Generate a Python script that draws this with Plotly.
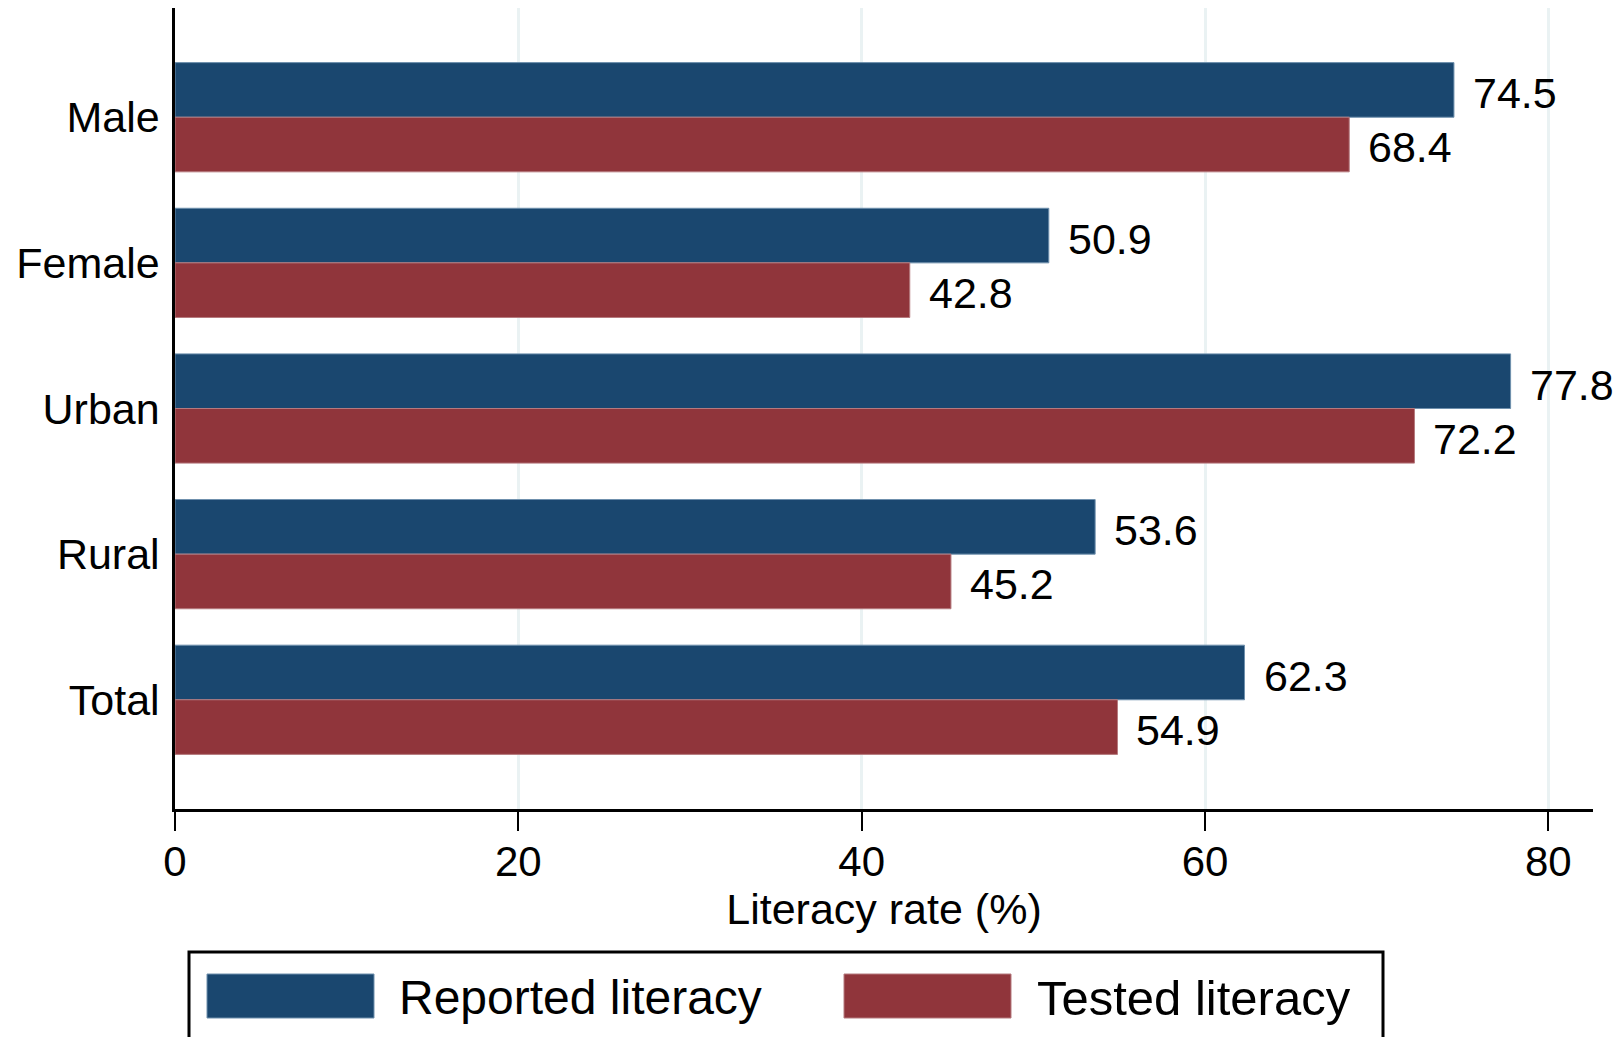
import plotly.graph_objects as go

categories = ["Male", "Female", "Urban", "Rural", "Total"]
reported = [74.5, 50.9, 77.8, 53.6, 62.3]
tested = [68.4, 42.8, 72.2, 45.2, 54.9]
series_names = ["Reported literacy", "Tested literacy"]
x_ticks = [0, 20, 40, 60, 80]

BLUE = "#1a476f"
RED = "#90353b"
FONT = "Liberation Sans, Arial, Helvetica, sans-serif"

FIG_W, FIG_H = 1623, 1037
L, R, T, B = 175, 1593, 8, 809
PW, PH = R - L, B - T


def px(x):
    return (x - L) / PW


def py(y):
    return (B - y) / PH


fig = go.Figure()
fig.add_trace(go.Bar(
    y=categories, x=reported, orientation="h", name=series_names[0],
    marker=dict(color=BLUE, line=dict(color="#6f90ad", width=1)),
    showlegend=False, cliponaxis=False,
))
fig.add_trace(go.Bar(
    y=categories, x=tested, orientation="h", name=series_names[1],
    marker=dict(color=RED, line=dict(color="#b57a7e", width=1)),
    showlegend=False, cliponaxis=False,
))

annotations = []
for cat, v in zip(categories, reported):
    annotations.append(dict(x=v, y=cat, xref="x", yref="y", text=f"{v:.1f}",
                            showarrow=False, xanchor="left", yanchor="middle",
                            xshift=17, yshift=24,
                            font=dict(family=FONT, size=43, color="black")))
for cat, v in zip(categories, tested):
    annotations.append(dict(x=v, y=cat, xref="x", yref="y", text=f"{v:.1f}",
                            showarrow=False, xanchor="left", yanchor="middle",
                            xshift=17, yshift=-30,
                            font=dict(family=FONT, size=43, color="black")))

# legend drawn manually
annotations.append(dict(x=px(397), y=py(998), xref="paper", yref="paper",
                        text=series_names[0], showarrow=False, xanchor="left",
                        yanchor="middle", font=dict(family=FONT, size=48, color="black")))
annotations.append(dict(x=px(1035), y=py(998), xref="paper", yref="paper",
                        text=series_names[1], showarrow=False, xanchor="left",
                        yanchor="middle", font=dict(family=FONT, size=49, color="black")))

shapes = [
    dict(type="rect", xref="paper", yref="paper", x0=px(189), x1=px(1383),
         y0=py(1120), y1=py(952), line=dict(color="black", width=3),
         fillcolor="white", layer="above"),
    dict(type="rect", xref="paper", yref="paper", x0=px(207), x1=px(374),
         y0=py(1018), y1=py(974), line=dict(color="#6f90ad", width=1),
         fillcolor=BLUE, layer="above"),
    dict(type="rect", xref="paper", yref="paper", x0=px(844), x1=px(1011),
         y0=py(1018), y1=py(974), line=dict(color="#b57a7e", width=1),
         fillcolor=RED, layer="above"),
]

fig.update_layout(
    width=FIG_W, height=FIG_H,
    margin=dict(l=L, r=FIG_W - R, t=T, b=FIG_H - B, pad=0),
    paper_bgcolor="white", plot_bgcolor="white",
    barmode="group", bargap=0.25, bargroupgap=0,
    font=dict(family=FONT, color="black"),
    annotations=annotations, shapes=shapes,
    showlegend=False,
)
fig.update_xaxes(
    range=[0, 82.6], tickvals=x_ticks, ticktext=[str(t) for t in x_ticks],
    showgrid=True, gridcolor="#eaf2f3", gridwidth=3, zeroline=False,
    showline=True, linecolor="black", linewidth=3,
    ticks="outside", ticklen=19, tickwidth=2, tickcolor="black",
    ticklabelstandoff=-5,
    tickfont=dict(family=FONT, size=42, color="black"),
    title=dict(text="Literacy rate (%)", font=dict(family=FONT, size=43, color="black"), standoff=5),
)
fig.update_yaxes(
    type="category", range=[4.75, -0.75], categoryorder="array", categoryarray=categories,
    showgrid=False, zeroline=False, showline=True, linecolor="black", linewidth=2.5,
    ticks="", ticklabelstandoff=4,
    tickfont=dict(family=FONT, size=43, color="black"),
)

fig.write_html(
    "out.html",
    config={"displayModeBar": False},
    post_script="document.body.style.margin='0';document.body.style.overflow='hidden';",
)
